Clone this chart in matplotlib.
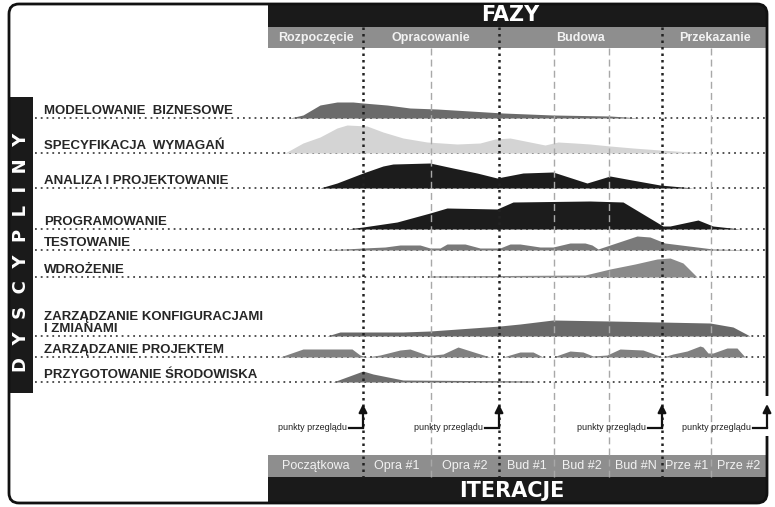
import matplotlib
matplotlib.use("Agg")
import matplotlib.pyplot as plt
from matplotlib.patches import FancyBboxPatch, Rectangle

plt.rcParams['font.family'] = ['Liberation Sans', 'DejaVu Sans']

# --- data -------------------------------------------------------------
phases = ["Rozpoczęcie", "Opracowanie", "Budowa", "Przekazanie"]
iterations = ["Początkowa", "Opra #1", "Opra #2", "Bud #1", "Bud #2",
              "Bud #N", "Prze #1", "Prze #2"]
# iteration boundaries on the time axis (chart units)
iter_edges = [268, 363, 431, 499, 554, 609, 662, 711, 767]
phase_edges = [268, 363, 499, 662, 767]
review_points = [363, 499, 662, 767]

disciplines = ["MODELOWANIE  BIZNESOWE", "SPECYFIKACJA  WYMAGAŃ",
               "ANALIZA I PROJEKTOWANIE", "PROGRAMOWANIE", "TESTOWANIE",
               "WDROŻENIE", "ZARZĄDZANIE KONFIGURACJAMI\nI ZMIANAMI",
               "ZARZĄDZANIE PROJEKTEM", "PRZYGOTOWANIE ŚRODOWISKA"]

# effort profiles: time -> effort
mod_t = [290, 303, 320, 337, 353, 363, 387, 410, 437, 470, 503, 553, 610, 640]
mod_e = [0, 3, 13, 16, 16, 15, 13, 10, 9, 7, 5, 3, 2, 0]

spec_t = [285, 303, 320, 337, 347, 367, 383, 403, 427, 457, 480, 495, 510,
          525, 545, 558, 575, 590, 610, 633, 660, 690, 705]
spec_e = [0, 10, 16, 25, 28, 27, 21, 15, 11, 9, 10, 14, 15, 12, 8, 11, 10,
          9, 7, 5, 3, 1, 0]

ana_t = [320, 337, 363, 383, 393, 430, 453, 477, 497, 523, 553, 587, 610,
         632, 660, 693]
ana_e = [0, 5, 15, 22, 24, 25, 20, 15, 10, 15, 16, 5, 12, 8, 3, 0]

prog_t = [347, 363, 397, 430, 447, 497, 513, 590, 623, 663, 670, 698, 713, 740]
prog_e = [0, 2, 7, 16, 21, 20, 27, 28, 27, 3, 3, 9, 3, 0]

test_t = [322, 345, 363, 385, 400, 420, 430, 440, 447, 465, 480, 500, 510,
          520, 540, 553, 570, 585, 592, 598, 610, 637, 650, 665, 697, 713, 757]
test_e = [0, 1, 2, 3, 5, 5, 2, 2, 6, 6, 2, 2, 6, 6, 3, 3, 7, 7, 5, 1, 5, 14,
          13, 7, 3, 1, 0]

wdr_t = [430, 585, 610, 635, 657, 670, 683, 693, 697]
wdr_e = [1, 2, 8, 13, 18, 19, 14, 4, 0]

konf_t = [327, 340, 403, 430, 500, 520, 553, 610, 660, 710, 733, 750]
konf_e = [0, 4, 4, 5, 10, 12, 16, 15, 14, 13, 9, 0]

proj_t = [280, 303, 352, 360, 367, 380, 400, 410, 427, 433, 443, 458, 477,
          490, 503, 520, 533, 543, 553, 570, 583, 593, 607, 620, 643, 657,
          663, 673, 687, 700, 703, 708, 713, 727, 737, 745]
proj_e = [0, 8, 8, 2, 0, 2, 7, 8, 2, 2, 3, 10, 4, 0, 0, 5, 5, 0, 0, 6, 5, 1,
          2, 8, 7, 2, 0, 3, 6, 11, 10, 4, 4, 9, 9, 0]

srod_t = [333, 363, 373, 403, 530, 535]
srod_e = [0, 11, 8, 2, 1, 0]

profiles = [(mod_t, mod_e), (spec_t, spec_e), (ana_t, ana_e),
            (prog_t, prog_e), (test_t, test_e), (wdr_t, wdr_e),
            (konf_t, konf_e), (proj_t, proj_e), (srod_t, srod_e)]

# --- layout -----------------------------------------------------------
row_base = [118, 153, 188, 229, 250, 277, 336, 357, 382]
hump_colors = ['#6b6b6b', '#d4d4d4', '#1c1c1c', '#1c1c1c', '#7a7a7a',
               '#8a8a8a', '#696969', '#808080', '#6e6e6e']

fig = plt.figure(figsize=(7.75, 5.07), dpi=100)
ax = fig.add_axes([0, 0, 1, 1])
ax.set_xlim(0, 775)
ax.set_ylim(507, 0)
ax.axis('off')

L, R, T, B = 9, 767, 4, 503
frame = FancyBboxPatch((L, T), R - L, B - T,
                       boxstyle="round,pad=0,rounding_size=10",
                       fc='white', ec='none', zorder=0)
ax.add_patch(frame)

# header / footer bands
for (x0, y0, w, h, c) in [(268, 0, 510, 27, '#1a1a1a'),
                          (268, 27, 510, 21, '#8e8e8e'),
                          (268, 455, 510, 22, '#8e8e8e'),
                          (268, 477, 510, 40, '#1a1a1a'),
                          (0, 97, 33, 296, '#1a1a1a')]:
    r = Rectangle((x0, y0), w, h, fc=c, ec='none', zorder=1)
    r.set_clip_path(frame)
    ax.add_patch(r)

ax.text(510, 15, "FAZY", color='white', fontsize=15, fontweight='bold',
        family='DejaVu Sans', ha='center', va='center', zorder=6)
ax.text(512, 491, "ITERACJE", color='white', fontsize=15, fontweight='bold',
        family='DejaVu Sans', ha='center', va='center', zorder=6)
ax.text(21, 252, "D  Y  S  C  Y  P  L  I  N  Y", color='white', fontsize=13,
        fontweight='bold', family='DejaVu Sans', rotation=90,
        ha='center', va='center', zorder=6)

for i, name in enumerate(phases):
    xc = (phase_edges[i] + phase_edges[i + 1]) / 2
    ax.text(xc, 38, name, color='#f2f2f2', fontsize=9, fontweight='bold',
            ha='center', va='center', zorder=6)
for i, name in enumerate(iterations):
    xc = (iter_edges[i] + iter_edges[i + 1]) / 2
    ax.text(xc, 466, name, color='#f2f2f2', fontsize=9,
            ha='center', va='center', zorder=6)

# dotted baselines, labels and humps
for name, base, (t, e), c in zip(disciplines, row_base, profiles, hump_colors):
    ax.plot([35, 765], [base, base], color='#444444', lw=1.3,
            ls=(0, (1, 2.2)), zorder=1.5)
    ax.text(44, base - 1, name, color='#262626', fontsize=9.5,
            fontweight='bold', ha='left', va='bottom', linespacing=0.95,
            zorder=4)
    ax.fill_between(t, [base] * len(t), [base - v for v in e], color=c,
                    lw=0, zorder=2)

# iteration / phase separators
for x in iter_edges[1:-1]:
    if x in phase_edges:
        ax.plot([x, x], [27, 477], color='#222222', lw=1.8,
                ls=(0, (1, 1.6)), zorder=3)
    else:
        ax.plot([x, x], [48, 477], color='#a8a8a8', lw=1,
                ls=(0, (5, 3)), zorder=3)

# frame outline with gap for the last arrow
ax.add_patch(FancyBboxPatch((L, T), R - L, B - T,
                            boxstyle="round,pad=0,rounding_size=10",
                            fc='none', ec='#111111', lw=2, zorder=5))
ax.add_patch(Rectangle((760, 396), 14, 40, fc='white', ec='none', zorder=5.5))

# review points
for x in review_points:
    ax.plot([x - 14, x], [428, 428], color='#111111', lw=1.6, zorder=7)
    ax.annotate('', xy=(x, 404), xytext=(x, 428),
                arrowprops=dict(arrowstyle='-|>', color='#111111', lw=1.6,
                                mutation_scale=12, shrinkA=0, shrinkB=0),
                zorder=7)
    ax.text(x - 16, 428, "punkty przeglądu", color='#222222', fontsize=6.5,
            ha='right', va='center', zorder=7)

fig.savefig("out.png", dpi=100)
